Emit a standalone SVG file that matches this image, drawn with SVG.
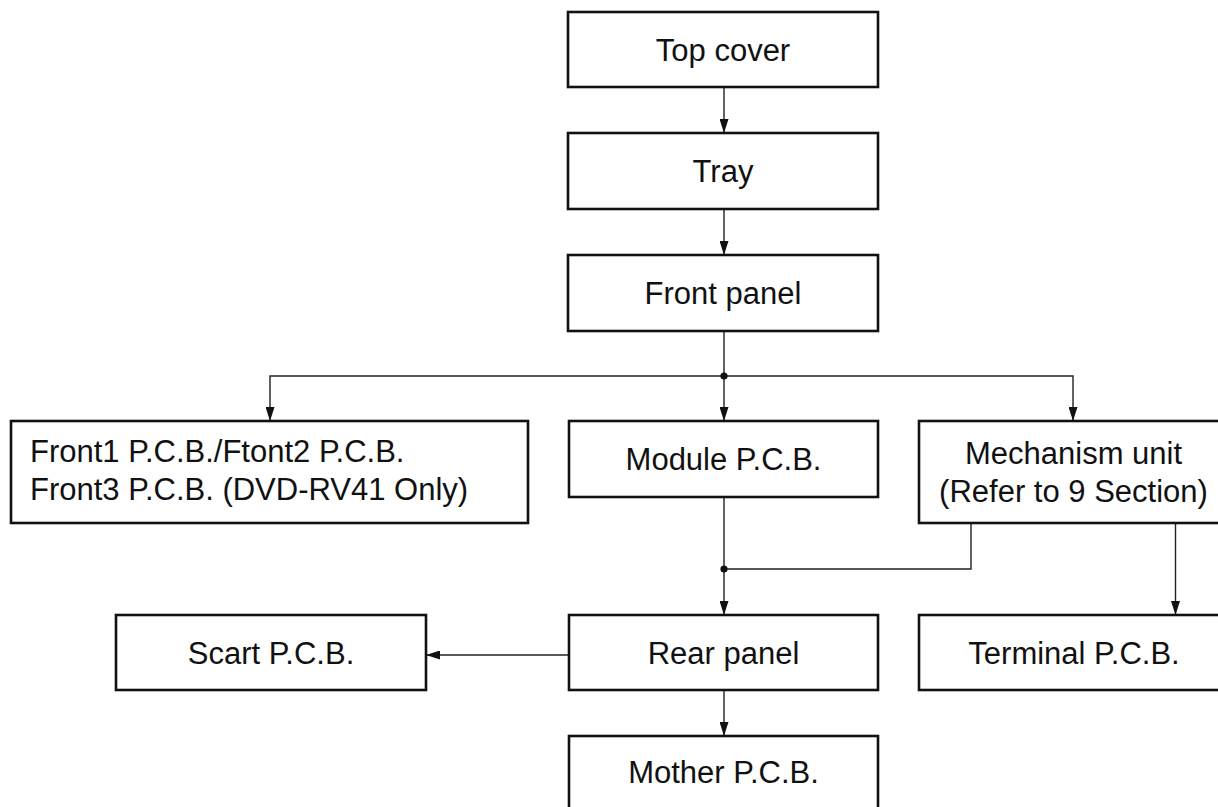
<svg xmlns="http://www.w3.org/2000/svg" width="1218" height="807" viewBox="0 0 1218 807">
<style>
.box{fill:#fff;stroke:#111;stroke-width:2.6}
.t{font-family:"Liberation Sans",Arial,Helvetica,sans-serif;font-size:31px;fill:#111}
.c{text-anchor:middle}
.ln{fill:none;stroke:#222;stroke-width:1.4}
.dot{fill:#111}
</style>
<defs>
<marker id="ah" viewBox="0 0 14 9" refX="14" refY="4.5" markerWidth="14" markerHeight="9" markerUnits="userSpaceOnUse" orient="auto">
<path d="M0,0 L14,4.5 L0,9 z" fill="#111"/>
</marker>
</defs>
<rect width="1218" height="807" fill="#fff"/>
<g id="connectors">
<line class="ln" x1="724" y1="87" x2="724" y2="133" marker-end="url(#ah)"/>
<line class="ln" x1="724" y1="209" x2="724" y2="255" marker-end="url(#ah)"/>
<line class="ln" x1="724" y1="331" x2="724" y2="421" marker-end="url(#ah)"/>
<polyline class="ln" points="724,376 270,376 270,421" marker-end="url(#ah)"/>
<polyline class="ln" points="724,376 1073,376 1073,421" marker-end="url(#ah)"/>
<circle class="dot" cx="724" cy="376" r="3.6"/>
<line class="ln" x1="724" y1="497" x2="724" y2="615" marker-end="url(#ah)"/>
<polyline class="ln" points="971,523 971,569 724,569"/>
<circle class="dot" cx="724" cy="569" r="3.6"/>
<line class="ln" x1="1175.5" y1="523" x2="1175.5" y2="615" marker-end="url(#ah)"/>
<line class="ln" x1="569" y1="655" x2="426" y2="655" marker-end="url(#ah)"/>
<line class="ln" x1="724" y1="690" x2="724" y2="736" marker-end="url(#ah)"/>
</g>
<g id="top-cover"><rect class="box" x="568" y="12" width="310" height="75"/><text class="t c" x="723" y="60.5">Top cover</text></g>
<g id="tray"><rect class="box" x="568" y="133" width="310" height="76"/><text class="t c" x="723" y="182">Tray</text></g>
<g id="front-panel"><rect class="box" x="568" y="255" width="310" height="76"/><text class="t c" x="723" y="304">Front panel</text></g>
<g id="front-pcb"><rect class="box" x="11" y="421" width="517" height="102"/><text class="t" x="30" y="462">Front1 P.C.B./Ftont2 P.C.B.</text><text class="t" x="30" y="500">Front3 P.C.B. (DVD-RV41 Only)</text></g>
<g id="module-pcb"><rect class="box" x="569" y="421" width="309" height="76"/><text class="t c" x="723.5" y="470">Module P.C.B.</text></g>
<g id="mechanism-unit"><rect class="box" x="919" y="421" width="310" height="102"/><text class="t c" x="1073.5" y="463.5">Mechanism unit</text><text class="t c" x="1073.5" y="501.5">(Refer to 9 Section)</text></g>
<g id="scart-pcb"><rect class="box" x="116" y="615" width="310" height="75"/><text class="t c" x="271" y="663.5">Scart P.C.B.</text></g>
<g id="rear-panel"><rect class="box" x="569" y="615" width="309" height="75"/><text class="t c" x="723.5" y="663.5">Rear panel</text></g>
<g id="terminal-pcb"><rect class="box" x="919" y="615" width="310" height="75"/><text class="t c" x="1074" y="663.5">Terminal P.C.B.</text></g>
<g id="mother-pcb"><rect class="box" x="569" y="736" width="309" height="80"/><text class="t c" x="723.5" y="783">Mother P.C.B.</text></g>
</svg>
